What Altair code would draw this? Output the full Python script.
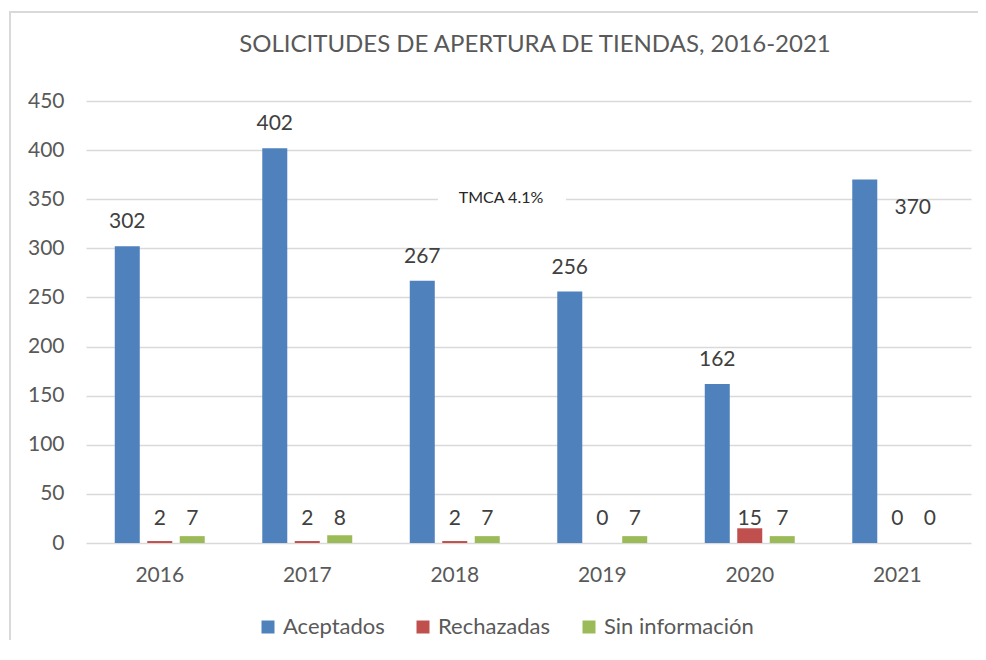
import altair as alt
import pandas as pd

years = ["2016", "2017", "2018", "2019", "2020", "2021"]
aceptados = [302, 402, 267, 256, 162, 370]
rechazadas = [2, 2, 2, 0, 15, 0]
sin_info = [7, 8, 7, 7, 7, 0]
series = ["Aceptados", "Rechazadas", "Sin información"]
colors = ["#4F81BD", "#C0504D", "#9BBB59"]
y_ticks = list(range(0, 451, 50))
title_text = "SOLICITUDES DE APERTURA DE TIENDAS, 2016-2021"
note_text = "TMCA 4.1%"

rows = []
for i, yr in enumerate(years):
    for s, vals in zip(series, [aceptados, rechazadas, sin_info]):
        rows.append({"year": yr, "series": s, "value": vals[i]})
df = pd.DataFrame(rows)
one = pd.DataFrame({"k": [0]})

FONT = "Lato"
TXT = "#595959"
LBL = "#404040"

x_enc = alt.X("year:N", sort=years,
              scale=alt.Scale(paddingInner=0.39, paddingOuter=0.195),
              axis=alt.Axis(title=None, labelAngle=0, ticks=False, domain=False,
                            labelFontSize=21, labelColor=TXT, labelFont=FONT,
                            labelPadding=21, grid=False))
xoff = alt.XOffset("series:N", sort=series,
                   scale=alt.Scale(paddingInner=0.23, paddingOuter=0))
y_enc = alt.Y("value:Q", scale=alt.Scale(domain=[0, 450], nice=False),
              axis=alt.Axis(title=None, values=y_ticks, ticks=False, domain=False,
                            labelFontSize=21, labelColor=TXT, labelFont=FONT,
                            labelPadding=22, gridColor="#D9D9D9", gridWidth=1.5))
color_enc = alt.Color("series:N", sort=series,
                      scale=alt.Scale(domain=series, range=colors),
                      legend=alt.Legend(title=None, orient="none", legendX=171, legendY=515,
                                        direction="horizontal", symbolType="square",
                                        symbolSize=169, symbolStrokeWidth=0,
                                        labelFont=FONT, labelFontSize=22, labelColor=TXT,
                                        labelOffset=4, columnPadding=27, padding=0))

base = alt.Chart(df)
bars = base.mark_bar().encode(x=x_enc, xOffset=xoff, y=y_enc, color=color_enc)

blue_lbl = base.transform_filter(
    (alt.datum.series == "Aceptados") & (alt.datum.year != "2021")
).mark_text(font=FONT, fontSize=21, color=LBL, baseline="middle", dy=-24).encode(
    x=alt.X("year:N", sort=years), xOffset=alt.XOffset("series:N", sort=series),
    y=alt.Y("value:Q"), text=alt.Text("value:Q", format="d"))

blue_lbl_2021 = base.transform_filter(
    (alt.datum.series == "Aceptados") & (alt.datum.year == "2021")
).mark_text(font=FONT, fontSize=21, color=LBL, baseline="middle", dx=48, dy=28).encode(
    x=alt.X("year:N", sort=years), xOffset=alt.XOffset("series:N", sort=series),
    y=alt.Y("value:Q"), text=alt.Text("value:Q", format="d"))

small_lbl = base.transform_filter(
    alt.datum.series != "Aceptados"
).mark_text(font=FONT, fontSize=21, color=LBL, baseline="middle", dy=-24).encode(
    x=alt.X("year:N", sort=years), xOffset=alt.XOffset("series:N", sort=series),
    y=alt.datum(0), text=alt.Text("value:Q", format="d"))

note_bg = alt.Chart(one).mark_rect(color="white").encode(
    x=alt.value(352), x2=alt.value(480), y=alt.value(87), y2=alt.value(107))
note = alt.Chart(one).mark_text(font=FONT, fontSize=16, color="#262626",
                                baseline="middle", align="center", text=note_text).encode(
    x=alt.value(415), y=alt.value(97))

title = alt.Chart(one).mark_text(font=FONT, fontSize=24, color=TXT,
                                 baseline="middle", align="center", text=title_text).encode(
    x=alt.value(449), y=alt.value(-56))

border_top = alt.Chart(one).mark_rect(color="#D9D9D9", strokeWidth=0).encode(
    x=alt.value(-77), x2=alt.value(892), y=alt.value(-90), y2=alt.value(-88))
border_left = alt.Chart(one).mark_rect(color="#D9D9D9", strokeWidth=0).encode(
    x=alt.value(-77), x2=alt.value(-75), y=alt.value(-90), y2=alt.value(539))

chart = alt.layer(
    bars, blue_lbl, blue_lbl_2021, small_lbl, note_bg, note, title, border_top, border_left
).properties(
    width=885, height=442,
    autosize=alt.AutoSizeParams(type="none"),
    padding={"left": 78, "top": 93, "right": 7, "bottom": 97},
).configure_view(stroke=None)

chart.save("out.html", embed_options={"renderer": "svg", "actions": False})
